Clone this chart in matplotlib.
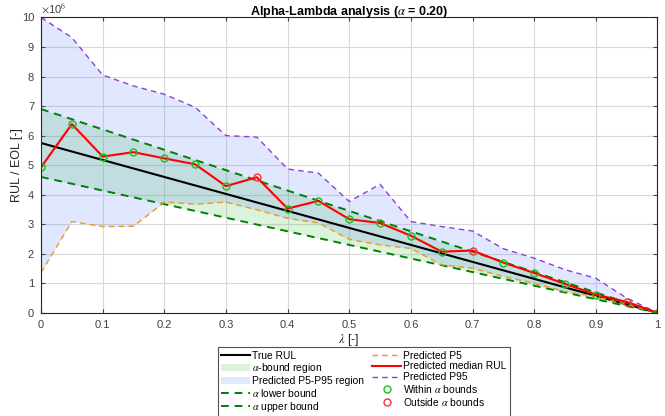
import numpy as np
import matplotlib.pyplot as plt
from matplotlib.patches import Patch
from matplotlib.lines import Line2D

plt.rcParams['font.family'] = ['Liberation Sans', 'DejaVu Sans']
plt.rcParams['mathtext.fontset'] = 'stix'

alpha = 0.20
eol = 5.75e6
lam = np.round(np.arange(0, 1.0001, 0.05), 2)

# predicted RUL percentiles at each lambda (x1e6)
p_median = [4.93, 6.39, 5.29, 5.44, 5.23, 5.03, 4.29, 4.59, 3.53, 3.79, 3.17,
            3.04, 2.61, 2.07, 2.11, 1.70, 1.35, 0.98, 0.62, 0.37, 0.0]
p5 = [1.36, 3.09, 2.92, 2.93, 3.75, 3.68, 3.75, 3.49, 3.20, 3.04, 2.49,
      2.30, 2.18, 1.62, 1.51, 1.23, 1.00, 0.72, 0.55, 0.29, 0.0]
p95 = [10.0, 9.32, 8.05, 7.68, 7.40, 6.96, 6.00, 5.95, 4.87, 4.73, 3.77,
       4.35, 3.09, 2.92, 2.77, 2.17, 1.85, 1.46, 1.17, 0.50, 0.0]

p_median = np.array(p_median) * 1e6
p5 = np.array(p5) * 1e6
p95 = np.array(p95) * 1e6
true_rul = eol * (1 - lam)
lower = (1 - alpha) * true_rul
upper = (1 + alpha) * true_rul
inside = (p_median >= lower - 1) & (p_median <= upper + 1)

c_green_fill = (0.2, 0.75, 0.2)
c_blue_fill = (0.3, 0.45, 1.0)
c_bound = (0.0, 0.5, 0.0)
c_p5 = (0.93, 0.6, 0.1)
c_p95 = (0.55, 0.25, 0.85)
c_in = (0.1, 0.75, 0.1)
c_out = (0.95, 0.2, 0.2)

fig = plt.figure(figsize=(6.65, 4.16), dpi=100)
ax = fig.add_axes([0.0617, 0.248, 0.927, 0.71])

ax.fill_between(lam, lower, upper, color=c_green_fill, alpha=0.18, lw=0)
ax.fill_between(lam, p5, p95, color=c_blue_fill, alpha=0.17, lw=0)
ax.plot(lam, true_rul, color='k', lw=1.5)
ax.plot(lam, lower, '--', color=c_bound, lw=1.4, dashes=(4, 3))
ax.plot(lam, upper, '--', color=c_bound, lw=1.4, dashes=(4, 3))
ax.plot(lam, p5, '--', color=c_p5, lw=1.0, dashes=(4, 3))
ax.plot(lam, p95, '--', color=c_p95, lw=1.0, dashes=(4, 3))
ax.plot(lam, p_median, color='red', lw=1.5)
ax.plot(lam[inside], p_median[inside], 'o', mfc='none', mec=c_in, ms=5, mew=1.0)
ax.plot(lam[~inside], p_median[~inside], 'o', mfc='none', mec=c_out, ms=5, mew=1.0)

ax.set_xlim(0, 1)
ax.set_ylim(0, 10e6)
ax.set_xticks(np.arange(0, 1.01, 0.1))
ax.set_xticklabels(['0', '0.1', '0.2', '0.3', '0.4', '0.5', '0.6', '0.7', '0.8', '0.9', '1'])
ax.set_yticks(np.arange(0, 10.1, 1) * 1e6)
ax.set_yticklabels([str(i) for i in range(11)])
ax.text(0.0, 1.005, r'$\times$10$^6$', transform=ax.transAxes, fontsize=8,
        color=(0.25, 0.25, 0.25), ha='left', va='bottom')
ax.tick_params(direction='in', length=3, labelsize=8, colors=(0.25, 0.25, 0.25),
               top=True, right=True, pad=5)
ax.grid(True, color=(0.85, 0.85, 0.85), lw=0.8)
ax.set_axisbelow(True)
for s in ax.spines.values():
    s.set_color((0.15, 0.15, 0.15))
    s.set_linewidth(0.8)

ax.set_xlabel(r'$\lambda$ [-]', fontsize=9, color=(0.15, 0.15, 0.15))
ax.set_ylabel('RUL / EOL [-]', fontsize=9, color=(0.15, 0.15, 0.15))
ax.xaxis.set_label_coords(0.5, -0.065)
ax.yaxis.set_label_coords(-0.029, 0.5)
ax.set_title(r'Alpha-Lambda analysis ($\alpha$ = 0.20)', fontsize=9,
             fontweight='bold', pad=2)

handles = [
    Line2D([], [], color='k', lw=1.5),
    Patch(facecolor=c_green_fill, alpha=0.18, lw=0),
    Patch(facecolor=c_blue_fill, alpha=0.17, lw=0),
    Line2D([], [], ls='--', color=c_bound, lw=1.4, dashes=(4, 3)),
    Line2D([], [], ls='--', color=c_bound, lw=1.4, dashes=(4, 3)),
    Line2D([], [], ls='--', color=c_p5, lw=1.0, dashes=(4, 3)),
    Line2D([], [], color='red', lw=1.5),
    Line2D([], [], ls='--', color=c_p95, lw=1.0, dashes=(4, 3)),
    Line2D([], [], ls='none', marker='o', mfc='none', mec=c_in, ms=5, mew=1.0),
    Line2D([], [], ls='none', marker='o', mfc='none', mec=c_out, ms=5, mew=1.0),
]
labels = ['True RUL', r'$\alpha$-bound region', 'Predicted P5-P95 region',
          r'$\alpha$ lower bound', r'$\alpha$ upper bound',
          'Predicted P5', 'Predicted median RUL', 'Predicted P95',
          r'Within $\alpha$ bounds', r'Outside $\alpha$ bounds']
leg = fig.legend(handles, labels, ncol=2, loc='upper center',
                 bbox_to_anchor=(364 / 665, 1 - 347 / 416), prop={'size': 7.4},
                 frameon=True, fancybox=False, edgecolor=(0.15, 0.15, 0.15),
                 handlelength=2.8, handletextpad=0.2, columnspacing=0.8,
                 labelspacing=0.08, borderpad=0.35, borderaxespad=0)
leg.get_frame().set_linewidth(0.8)

fig.savefig('out.png', dpi=100)
